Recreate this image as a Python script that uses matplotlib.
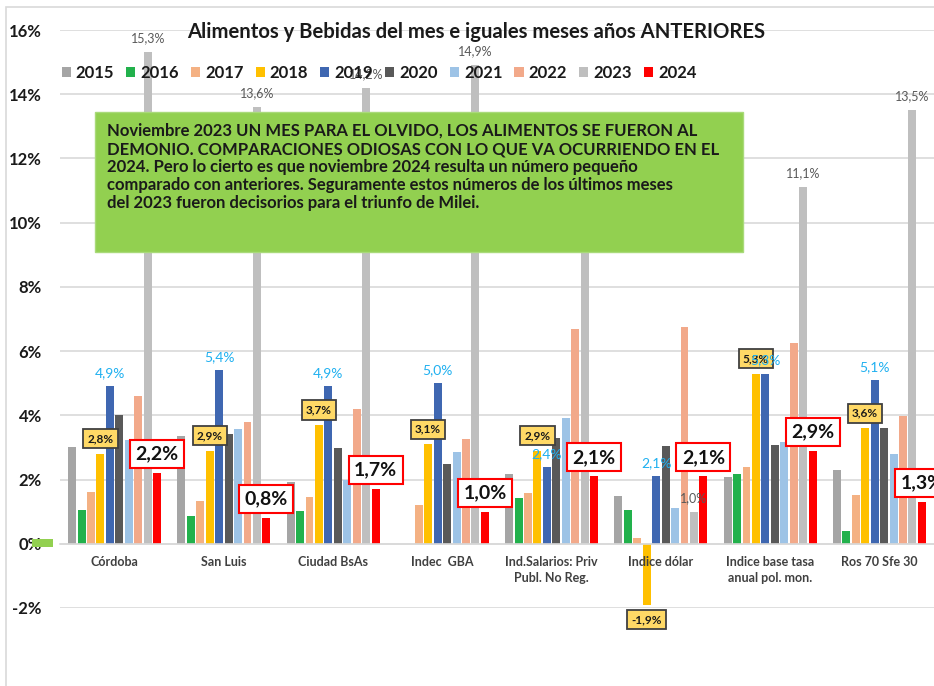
import numpy as np
import matplotlib
matplotlib.use("Agg")
import matplotlib.pyplot as plt
from matplotlib.patches import Rectangle

plt.rcParams['font.family'] = ['Lato', 'DejaVu Sans']

categories = ["Córdoba", "San Luis", "Ciudad BsAs", "Indec  GBA",
              "Ind.Salarios: Priv\nPubl. No Reg.", "Indice dólar",
              "Indice base tasa\nanual pol. mon.", "Ros 70 Sfe 30"]
years = ["2015", "2016", "2017", "2018", "2019", "2020", "2021", "2022", "2023", "2024"]
nan = np.nan
v2015 = [3.00, 3.35, 1.92, nan, 2.18, 1.50, 2.07, 2.30]
v2016 = [1.06, 0.88, 1.02, nan, 1.44, 1.05, 2.17, 0.41]
v2017 = [1.60, 1.34, 1.47, 1.21, 1.57, 0.19, 2.39, 1.52]
v2018 = [2.8, 2.9, 3.7, 3.1, 2.9, -1.9, 5.3, 3.6]
v2019 = [4.9, 5.4, 4.9, 5.0, 2.4, 2.1, 5.3, 5.1]
v2020 = [4.00, 3.43, 2.97, 2.48, 3.29, 3.04, 3.08, 3.60]
v2021 = [3.23, 3.56, 2.00, 2.86, 3.92, 1.11, 3.16, 2.80]
v2022 = [4.60, 3.80, 4.20, 3.26, 6.70, 6.75, 6.25, 3.99]
v2023 = [15.3, 13.6, 14.2, 14.9, 9.1, 1.0, 11.1, 13.5]
v2024 = [2.2, 0.8, 1.7, 1.0, 2.1, 2.1, 2.9, 1.3]
series = [v2015, v2016, v2017, v2018, v2019, v2020, v2021, v2022, v2023, v2024]
colors = ["#A5A5A5", "#22B14C", "#F4B183", "#FFC000", "#3F67B1",
          "#595959", "#9DC3E6", "#F2A98A", "#BFBFBF", "#FF0000"]

title = "Alimentos y Bebidas del mes e iguales meses años ANTERIORES"
note = ("Noviembre 2023 UN MES PARA EL OLVIDO, LOS ALIMENTOS SE FUERON AL\n"
        "DEMONIO. COMPARACIONES ODIOSAS CON LO QUE VA OCURRIENDO EN EL\n"
        "2024. Pero lo cierto es que noviembre 2024 resulta un número pequeño\n"
        "comparado con anteriores. Seguramente estos números de los últimos meses\n"
        "del 2023 fueron decisorios para el triunfo de Milei.")

W, H = 934, 686
fig = plt.figure(figsize=(W / 100, H / 100), dpi=100)

def fx(px):
    return px / W

def fy(py):
    return 1 - py / H

# chart border
fig.patches.append(Rectangle((fx(6), fy(690)), fx(940) - fx(6), fy(7) - fy(690),
                             transform=fig.transFigure, fill=False,
                             edgecolor="#D9D9D9", linewidth=1.2, zorder=0))

ax = fig.add_axes([fx(60), fy(608), fx(934) - fx(60), fy(30) - fy(608)])
ax.set_ylim(-2, 16)
ax.set_xlim(-0.5, len(categories) - 0.5)
ax.set_yticks(np.arange(-2, 17, 2))
ax.set_yticklabels([f"{t}%" for t in range(-2, 17, 2)])
ax.yaxis.grid(True, color="#D9D9D9", linewidth=1.2)
ax.set_axisbelow(True)
for s in ["top", "right", "left"]:
    ax.spines[s].set_visible(False)
ax.spines["bottom"].set_position(("data", 0))
ax.spines["bottom"].set_color("#D9D9D9")
ax.spines["bottom"].set_linewidth(1.2)
ax.tick_params(axis="y", length=0, pad=13, labelsize=12, labelcolor="#1a1a1a")
for lbl in ax.get_yticklabels():
    lbl.set_fontweight("bold")
x = np.arange(len(categories))
ax.set_xticks([])
for i, cat in enumerate(categories):
    ax.annotate(cat, (x[i], 0), xytext=(0, -8.5), textcoords="offset points",
                ha="center", va="top", fontsize=9, fontweight="bold", color="#404040",
                linespacing=1.4, zorder=4, annotation_clip=False)

pitch = 0.0865
width = 0.073
conts = []
for j, (vals, c, yr) in enumerate(zip(series, colors, years)):
    xs = x + (j - 4.5) * pitch
    b = ax.bar(xs, vals, width=width, color=c, label=yr, zorder=2)
    conts.append(b)

def fmt(v):
    return f"{v:.1f}".replace(".", ",") + "%"

px2pt = 0.72
for i in range(len(categories)):
    # 2018 labels
    v = v2018[i]
    xs = x[i] + (3 - 4.5) * pitch
    off = 15 if v >= 0 else -15
    ax.annotate(fmt(v), (xs, v), xytext=(0, off * px2pt), textcoords="offset points",
                ha="center", va="center", fontsize=8.5, fontweight="bold", color="#1a1a1a",
                bbox=dict(boxstyle="square,pad=0.35", fc="#FFD966", ec="#404040", lw=1.3),
                zorder=6, annotation_clip=False)
for i in range(len(categories)):
    # 2019 labels
    v = v2019[i]
    xs = x[i] + (4 - 4.5) * pitch
    ax.annotate(fmt(v), (xs, v), xytext=(0, 13 * px2pt), textcoords="offset points",
                ha="center", va="center", fontsize=10, color="#1FB0F0", zorder=7)
for i in range(len(categories)):
    # 2023 labels
    v = v2023[i]
    xs = x[i] + (8 - 4.5) * pitch
    ax.annotate(fmt(v), (xs, v), xytext=(0, 14 * px2pt), textcoords="offset points",
                ha="center", va="center", fontsize=9, color="#595959", zorder=5)
for i in range(len(categories)):
    # 2024 labels
    v = v2024[i]
    xs = x[i] + (9 - 4.5) * pitch
    ax.annotate(fmt(v), (xs, v), xytext=(0, 19 * px2pt), textcoords="offset points",
                ha="center", va="center", fontsize=14, fontweight="bold", color="#111111",
                bbox=dict(boxstyle="square,pad=0.28", fc="white", ec="#FF0000", lw=1.5),
                zorder=8, annotation_clip=False)

# legend
leg = ax.legend(handles=conts, labels=years, ncol=10, loc="center",
                bbox_to_anchor=(fx(379), fy(73)), bbox_transform=fig.transFigure,
                frameon=False, fontsize=12, handlelength=0.55, handleheight=0.55,
                handletextpad=0.3, columnspacing=0.72, borderaxespad=0)
for t in leg.get_texts():
    t.set_fontweight("bold")
    t.set_color("#1a1a1a")
leg.set_zorder(9)

# title
fig.text(fx(476), fy(32), title, ha="center", va="center", fontsize=14.6,
         fontweight="bold", color="#1a1a1a", zorder=10)

# green note box
fig.patches.append(Rectangle((fx(95), fy(252)), fx(743) - fx(95), fy(112) - fy(252),
                             transform=fig.transFigure, facecolor="#92D050",
                             edgecolor="#A9DA7A", linewidth=1, zorder=20))
fig.text(fx(107), fy(123), note, ha="left", va="top", fontsize=12,
         fontweight="bold", color="#1a1a1a", linespacing=1.16, zorder=21)

# small green mark at 0
fig.patches.append(Rectangle((fx(32), fy(547)), fx(53) - fx(32), fy(539) - fy(547),
                             transform=fig.transFigure, facecolor="#92D050",
                             edgecolor="none", zorder=20))

fig.savefig("out.png", dpi=100)
